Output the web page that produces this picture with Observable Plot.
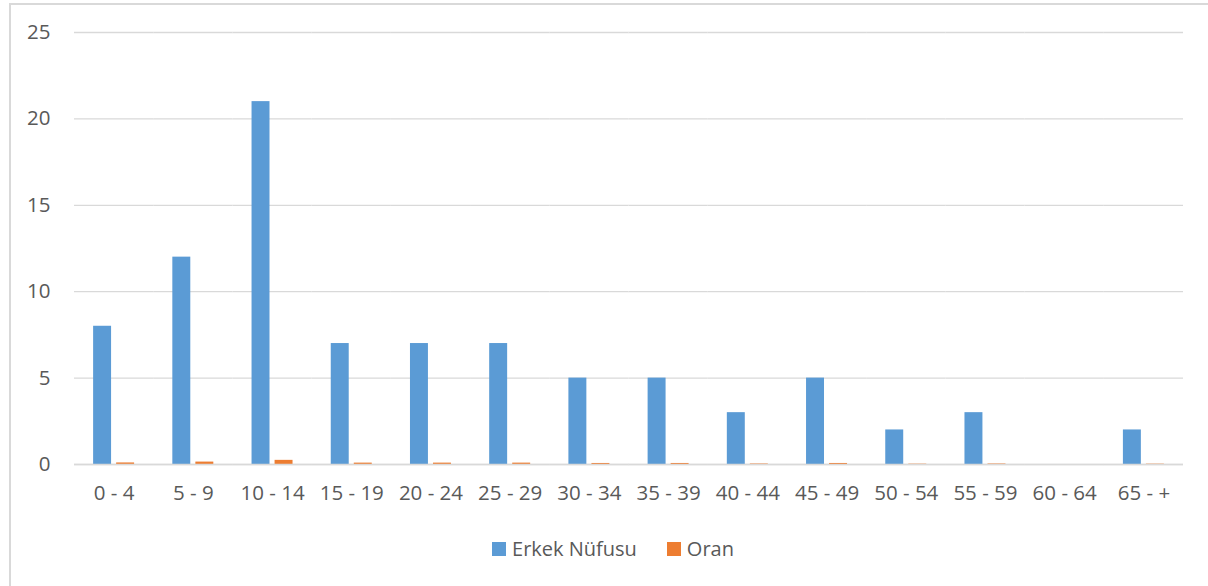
<!DOCTYPE html>
<html>
<head>
<meta charset="utf-8">
<script src="https://cdn.jsdelivr.net/npm/d3@7"></script>
<script src="https://cdn.jsdelivr.net/npm/@observablehq/plot@0.6"></script>
<style>
  html, body { margin: 0; padding: 0; background: #fff; width: 1208px; height: 586px; overflow: hidden; }
  #frame { position: absolute; left: 9px; top: 3px; width: 1300px; height: 700px; border-left: 2px solid #d9d9d9; border-top: 2px solid #d9d9d9; box-sizing: border-box; }
  #chart { position: absolute; left: 0; top: 0; }
  #legend { position: absolute; left: 0; top: 535px; width: 1208px; display: flex; justify-content: center; gap: 30px; font-family: "Open Sans", sans-serif; font-size: 20px; color: #595959; padding-left: 18px; box-sizing: border-box; }
  .item { display: flex; align-items: center; gap: 6px; }
  .sw { width: 14px; height: 14px; display: inline-block; }
</style>
</head>
<body>
<div id="frame"></div>
<div id="chart"></div>
<div id="legend"></div>
<script>
const categories = ["0 - 4","5 - 9","10 - 14","15 - 19","20 - 24","25 - 29","30 - 34","35 - 39","40 - 44","45 - 49","50 - 54","55 - 59","60 - 64","65 - +"];
const erkekNufusu = [8, 12, 21, 7, 7, 7, 5, 5, 3, 5, 2, 3, 0, 2];
const oran = [0.09, 0.14, 0.24, 0.08, 0.08, 0.08, 0.06, 0.06, 0.03, 0.06, 0.02, 0.03, 0, 0.02];
const seriesNames = ["Erkek Nüfusu", "Oran"];
const seriesColors = ["#5B9BD5", "#ED7D31"];
const yTicks = [0, 5, 10, 15, 20, 25];

const table = [];
categories.forEach((c, i) => {
  table.push({cat: c, series: seriesNames[0], value: erkekNufusu[i]});
  table.push({cat: c, series: seriesNames[1], value: oran[i]});
});

const chart = Plot.plot({
  width: 1208,
  height: 520,
  marginLeft: 74,
  marginRight: 25,
  marginTop: 32,
  marginBottom: 56,
  style: {fontFamily: "Open Sans, sans-serif", fontSize: "20.5px", color: "#595959", background: "transparent"},
  fx: {domain: categories, padding: 0, round: false, label: null, tickSize: 0, tickPadding: 21, axis: "bottom"},
  x: {domain: seriesNames, axis: null, round: false, paddingInner: 0.22, paddingOuter: 0.83},
  y: {domain: [0, 25], ticks: yTicks, label: null, tickSize: 0, tickPadding: 24},
  color: {domain: seriesNames, range: seriesColors},
  marks: [
    Plot.gridY(yTicks, {stroke: "#d9d9d9", strokeOpacity: 1, strokeWidth: 1.3}),
    Plot.barY(table, {fx: "cat", x: "series", y: "value", fill: "series"}),
    Plot.ruleY([0], {stroke: "#d9d9d9", strokeWidth: 1.5})
  ]
});
document.getElementById("chart").appendChild(chart);

const legend = document.getElementById("legend");
seriesNames.forEach((s, i) => {
  const item = document.createElement("div");
  item.className = "item";
  const sw = document.createElement("span");
  sw.className = "sw";
  sw.style.background = seriesColors[i];
  const t = document.createElement("span");
  t.textContent = s;
  item.appendChild(sw);
  item.appendChild(t);
  legend.appendChild(item);
});
</script>
</body>
</html>
